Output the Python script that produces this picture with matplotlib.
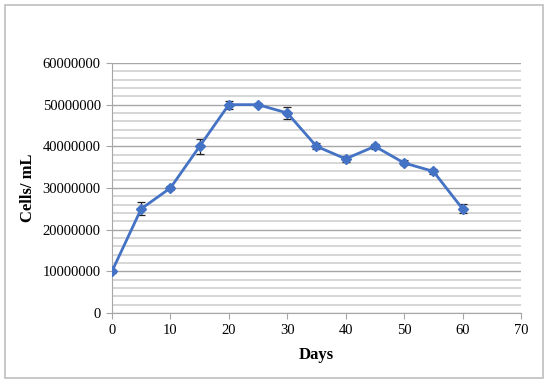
import matplotlib

matplotlib.use("Agg")

import matplotlib.pyplot as plt
from matplotlib.patches import Rectangle
from matplotlib.ticker import MultipleLocator


days = [0, 5, 10, 15, 20, 25, 30, 35, 40, 45, 50, 55, 60]
cells = [10000000, 25000000, 30000000, 40000000, 50000000, 50000000, 48000000,
         40000000, 37000000, 40000000, 36000000, 34000000, 25000000]
errors = [300000, 1600000, 500000, 1800000, 1000000, 300000, 1400000,
          700000, 700000, 600000, 600000, 600000, 1100000]

plt.rcParams["font.family"] = ["Liberation Serif", "DejaVu Serif"]

fig = plt.figure(figsize=(5.5, 3.83), dpi=100)
ax = fig.add_axes([0.2036, 0.1828, 0.7436, 0.6527])

# outer chart frame
fig.patches.append(Rectangle((0.009, 0.013), 0.979, 0.974, transform=fig.transFigure,
                             fill=False, edgecolor="#bfbfbf", linewidth=1.2))

ax.errorbar(days, cells, yerr=errors, color="#4472c4", linewidth=2, marker="D",
            markersize=5.5, ecolor="#222222", elinewidth=0.9, capsize=3,
            capthick=0.9, zorder=3)

ax.set_xlim(0, 70)
ax.set_ylim(0, 60000000)
ax.xaxis.set_major_locator(MultipleLocator(10))
ax.yaxis.set_major_locator(MultipleLocator(10000000))
ax.yaxis.set_minor_locator(MultipleLocator(2000000))
ax.ticklabel_format(axis="y", style="plain", useOffset=False)

ax.grid(which="major", axis="y", color="#a6a6a6", linewidth=1)
ax.grid(which="minor", axis="y", color="#d0d0d0", linewidth=1.2)
ax.set_axisbelow(True)

for side in ["top", "right"]:
    ax.spines[side].set_visible(False)
for side in ["left", "bottom"]:
    ax.spines[side].set_color("#a6a6a6")

ax.tick_params(which="major", direction="out", length=4, color="#a6a6a6",
               labelsize=10.5, pad=4)
ax.tick_params(which="minor", length=0)

ax.set_xlabel("Days", fontsize=12, fontweight="bold", labelpad=7)
ax.set_ylabel("Cells/ mL", fontsize=12, fontweight="bold", labelpad=5)

fig.savefig("out.png", dpi=100)
